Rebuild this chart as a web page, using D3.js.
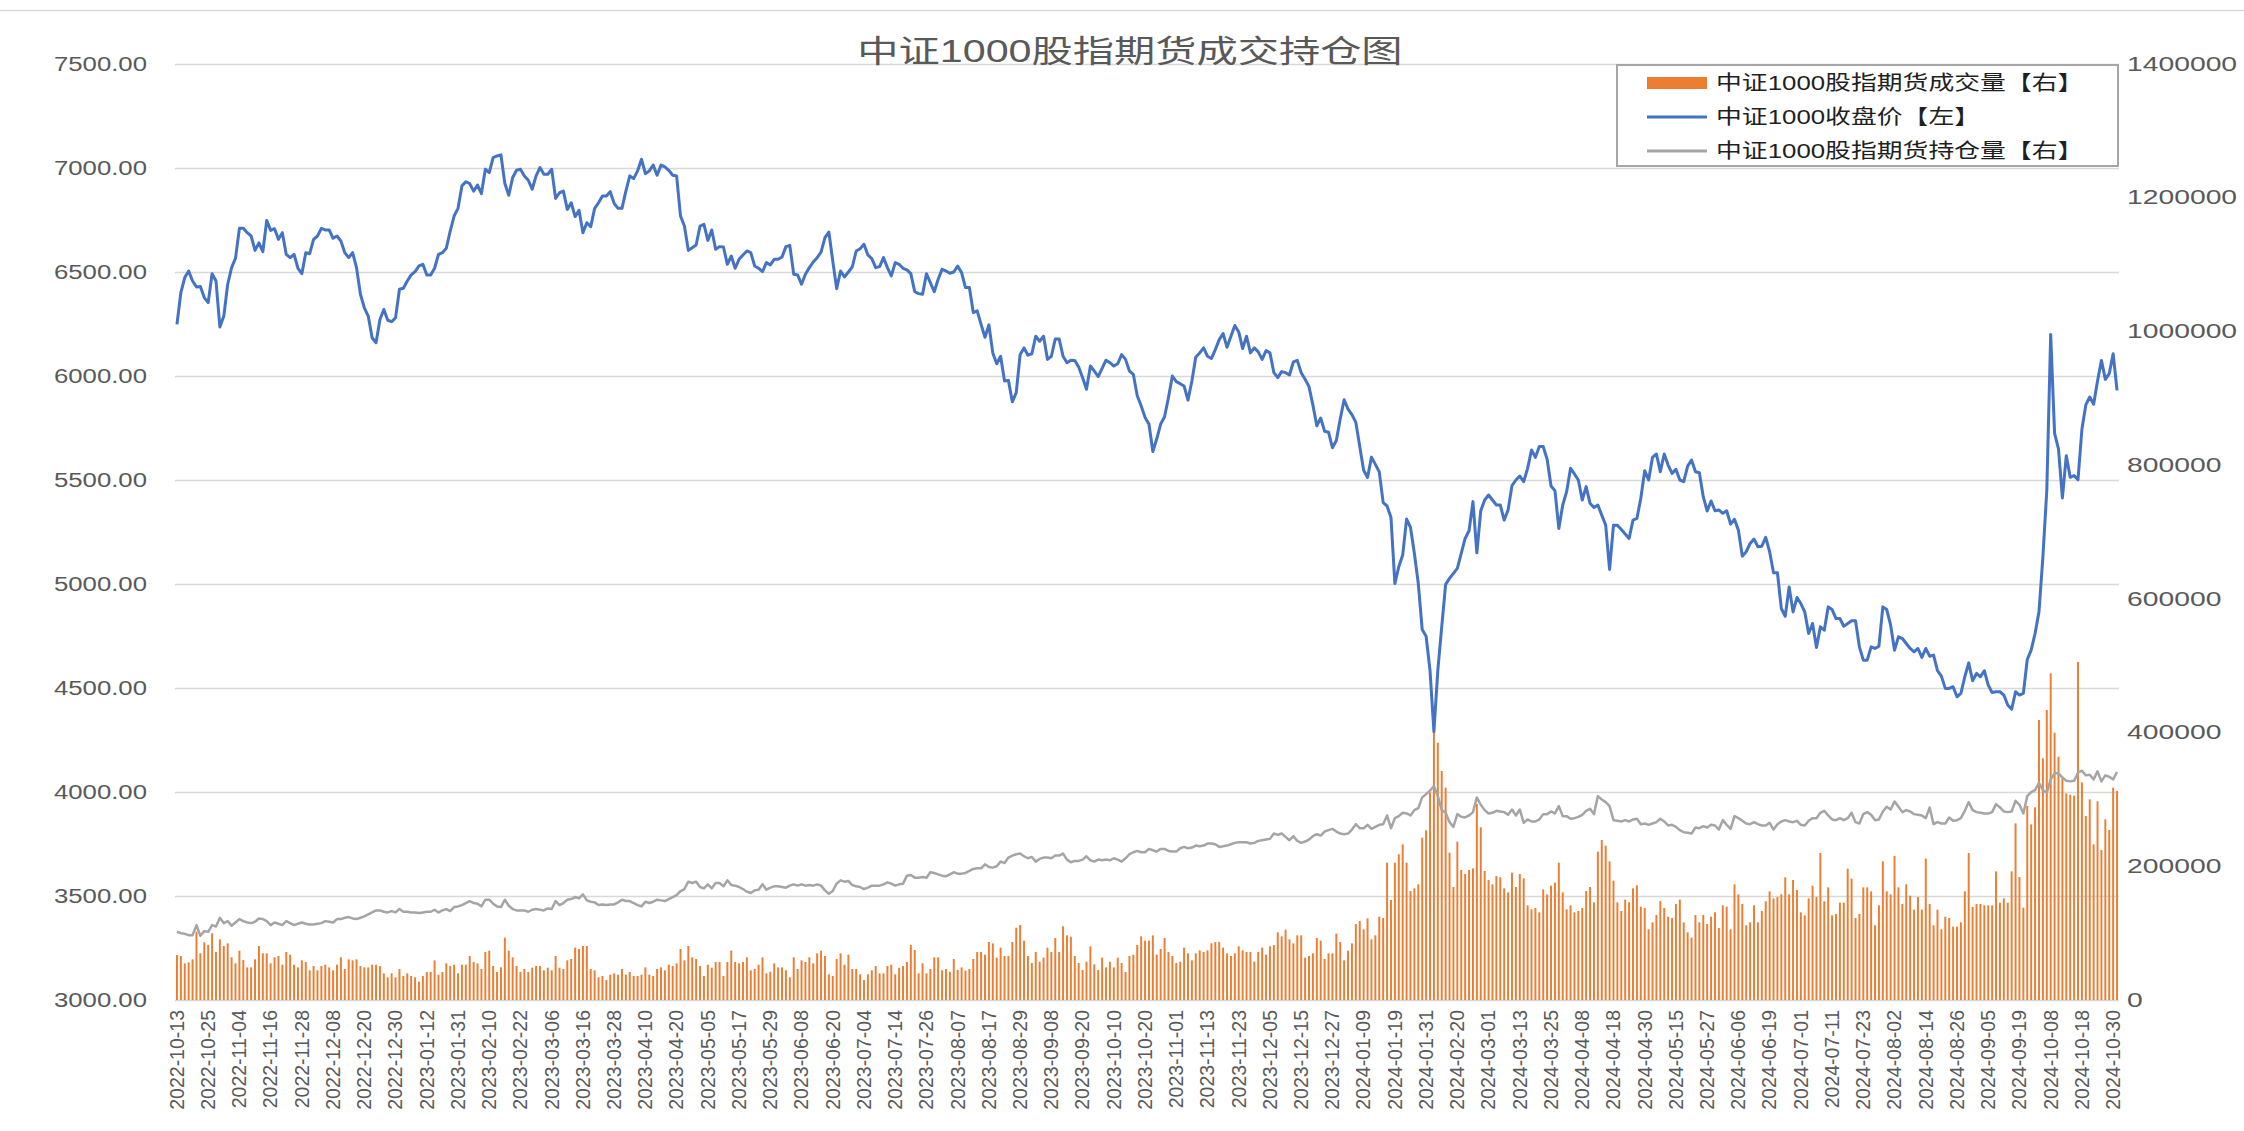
<!DOCTYPE html>
<html>
<head>
<meta charset="utf-8">
<script src="https://cdn.jsdelivr.net/npm/d3@7"></script>
<style>
  html, body { margin: 0; padding: 0; background: #fff; }
  svg { display: block; font-family: "Liberation Sans", "Noto Sans CJK SC", sans-serif; }
</style>
</head>
<body>
<svg id="chart" width="2244" height="1131"></svg>
<script>
// x axis labels, one every 8 trading days
var tickLabels = [
  "2022-10-13","2022-10-25","2022-11-04","2022-11-16","2022-11-28","2022-12-08","2022-12-20","2022-12-30",
  "2023-01-12","2023-01-31","2023-02-10","2023-02-22","2023-03-06","2023-03-16","2023-03-28","2023-04-10",
  "2023-04-20","2023-05-05","2023-05-17","2023-05-29","2023-06-08","2023-06-20","2023-07-04","2023-07-14",
  "2023-07-26","2023-08-07","2023-08-17","2023-08-29","2023-09-08","2023-09-20","2023-10-10","2023-10-20",
  "2023-11-01","2023-11-13","2023-11-23","2023-12-05","2023-12-15","2023-12-27","2024-01-09","2024-01-19",
  "2024-01-31","2024-02-20","2024-03-01","2024-03-13","2024-03-25","2024-04-08","2024-04-18","2024-04-30",
  "2024-05-15","2024-05-27","2024-06-06","2024-06-19","2024-07-01","2024-07-11","2024-07-23","2024-08-02",
  "2024-08-14","2024-08-26","2024-09-05","2024-09-19","2024-10-08","2024-10-18","2024-10-30"
];
var tickEvery = 8;

// 中证1000收盘价 (left axis)
var closePrice = [
  6248,6401,6473,6505,6457,6428,6430,6377,6353,6492,6457,6235,6288,6441,6521,6566,6710,6710,6689,6673,
  6604,6640,6598,6748,6700,6708,6657,6689,6585,6569,6585,6518,6492,6593,6588,6657,6673,6710,6702,6702,
  6662,6673,6649,6593,6569,6593,6521,6393,6328,6288,6184,6160,6272,6320,6268,6261,6280,6417,6422,6457,
  6486,6502,6529,6537,6486,6486,6518,6585,6593,6614,6697,6769,6806,6914,6934,6925,6889,6918,6877,6994,
  6978,7050,7058,7063,6925,6869,6954,6989,6994,6962,6941,6898,6962,7002,6970,6970,6994,6854,6881,6889,
  6801,6833,6766,6797,6689,6737,6718,6806,6833,6865,6865,6886,6830,6806,6806,6889,6962,6949,6986,7042,
  6973,6986,7014,6965,7014,7005,6989,6965,6962,6769,6721,6604,6617,6630,6721,6729,6652,6702,6609,6622,
  6620,6537,6577,6518,6561,6582,6601,6593,6529,6518,6502,6545,6534,6561,6561,6572,6622,6628,6489,6486,
  6441,6489,6521,6548,6569,6596,6665,6692,6553,6420,6505,6476,6500,6524,6601,6612,6633,6582,6564,6521,
  6526,6569,6521,6481,6545,6537,6518,6510,6492,6405,6396,6393,6492,6449,6405,6465,6513,6505,6494,6500,
  6529,6497,6425,6425,6305,6313,6248,
  6186,6246,6111,6059,6095,5976,5979,5876,5920,6103,6135,6100,6107,6191,6167,6191,6080,6095,6178,6178,
  6095,6064,6076,6075,6043,5992,5936,6048,6024,5997,6037,6076,6064,6048,6059,6103,6080,6024,6008,5905,
  5857,5801,5769,5637,5698,5769,5804,5897,6000,5973,5963,5952,5884,5976,6091,6111,6135,6095,6084,6127,
  6175,6204,6138,6191,6243,6212,6132,6191,6111,6135,6116,6080,6122,6111,6016,5992,6021,6016,6005,6068,
  6075,6016,5984,5949,5860,5761,5798,5734,5730,5655,5690,5793,5886,5841,5814,5777,5661,5547,5512,5610,
  5575,5539,5391,5375,5320,
  5002,5083,5139,5312,5272,5147,5002,4781,4749,4585,4290,4585,4794,4998,5027,5051,5075,5147,5219,5256,
  5396,5150,5352,5404,5428,5404,5380,5380,5307,5356,5473,5500,5519,5492,5556,5644,5609,5661,5661,5600,
  5471,5449,5267,5380,5444,5556,5529,5500,5404,5468,5388,5368,5380,5331,5283,5070,5283,5283,5262,5240,
  5219,5307,5315,5412,5545,5500,5609,5625,5540,5625,5572,5532,5551,5500,5492,5567,5596,5540,5535,5420,
  5351,5399,5352,5356,5340,5352,5288,5311,5259,5134,5155,5195,5216,5179,5182,5224,5155,5054,5054,4882,
  4845,4986,4866,4935,4906,
  4866,4762,4810,4695,4794,4778,4890,4877,4834,4834,4797,4810,4823,4823,4698,4634,4634,4698,4690,4701,
  4890,4877,4802,4682,4746,4738,4714,4690,4674,4690,4647,4690,4653,4658,4583,4557,4498,4498,4506,4458,
  4474,4554,4621,4535,4570,4554,4583,4514,4478,4482,4482,4466,4418,4398,4482,4466,4474,4637,4682,4762,
  4866,5129,5449,6200,5724,5649,5414,5617,5513,5521,5502,5744,5861,5899,5864,5976,6075,5984,6011,6107,
  5931
];

// 中证1000股指期货成交量 (right axis, bars)
var futVolume = [
  67300,65800,54800,56300,60800,102200,69800,86200,82300,99700,71800,90700,80800,84700,63800,54800,73800,59800,48800,48800,
  60800,80800,69800,69800,54800,63800,65800,52800,71800,67800,52800,48800,59300,56800,44400,50800,44400,50800,52800,48800,
  44400,52800,63800,46400,60800,59300,60800,50800,48800,48800,52800,52800,50800,39900,33900,39900,33900,46400,35900,39900,
  35900,33900,27400,35900,41900,41900,59300,37900,41900,54800,50800,52800,39900,52800,52800,65800,56800,54800,46400,71800,
  73800,50800,41900,48800,93200,73800,63800,50800,41900,46400,41900,48300,50800,50800,44400,48300,44400,65800,48300,46400,
  59300,61300,78300,76300,80800,80800,46400,44400,33900,35900,29900,37900,39900,37900,46400,37900,41900,35900,35900,37900,
  48800,37900,35900,46400,48800,44400,52800,50800,54800,76300,59300,80800,63800,61300,50800,35900,52800,48300,56800,56800,
  35900,56800,73800,56800,54800,56800,63800,44400,46400,52800,63800,39900,42400,54800,48800,48800,44400,33900,63800,46400,
  59300,56800,63800,54800,69800,73800,65800,38400,35900,61300,69800,52800,67800,46400,46400,38400,29900,38400,44400,50800,
  39900,39900,50800,52800,38400,48300,50800,56800,82300,74800,39900,54800,39900,46400,63800,63800,44400,46400,42400,61300,
  44900,48800,43900,46300,61300,71800,71800,67800,86700,84700,63300,78300,65800,65800,86700,108200,112200,88700,65800,55300,
  71800,57300,63300,78300,71800,92700,71800,110200,96700,94700,65800,55300,44900,57300,80300,53300,44900,63300,48800,57300,
  48800,63300,55300,41900,65800,67800,82200,95200,88700,88700,96700,67800,76300,92700,71800,65800,55300,57300,78300,69800,
  59300,69800,74300,71800,74300,84700,86700,86700,78300,69800,65800,69800,80300,74300,71800,71800,57300,71800,78300,67800,
  80300,82200,101200,95200,105200,90700,84700,96700,96700,63300,65800,69800,92700,88700,61300,69800,69800,99200,86700,59300,
  73800,84700,113600,118100,105700,122100,90700,96700,124600,122600,205400,149600,205400,217900,232800,205400,163000,167000,173000,242800,
  253800,310600,403800,384900,342500,317600,220400,169000,236800,194400,188400,194400,196900,293100,258200,192900,179500,173000,185500,183500,
  167000,161000,190400,169000,188400,182000,141600,135600,137600,131100,165500,158000,171000,175500,205400,161000,135600,141600,131100,133100,
  137600,163000,169000,146100,221900,239300,230800,207400,178500,146100,133100,150100,146100,167000,171500,139600,137600,105700,116100,127100,
  148000,137600,124600,122600,143600,150100,116100,101200,93200,127100,116100,127100,113600,124600,131100,107700,141600,139600,105700,
  173000,158000,143600,111700,116200,141600,116200,133100,147600,162500,152000,154000,158000,183500,158000,179500,164500,131100,126600,152000,
  171000,154000,219900,147600,168500,126600,128600,145600,145600,196400,181500,122600,128600,168500,168500,162500,111700,141600,207400,162500,
  158000,215400,168500,143600,173000,156000,135100,154000,135100,211400,143600,111700,135100,105700,124600,122600,109700,109700,116200,162500,
  219900,139100,143600,143600,141600,141600,141600,192400,145600,152000,145600,192400,264200,184000,138100,290200,262700,288200,418800,361500,
  433800,488600,399900,364000,331500,309100,307100,305600,505600,325600,275200,300100,232800,297100,224300,270200,254300,317600,312600
];

// 中证1000股指期货持仓量 (right axis, line)
var futOI = [
  102000,100000,99000,97000,97000,112000,96000,103000,102000,112000,110000,123000,115000,118000,111000,116000,121000,118000,116000,115000,
  117000,122000,121000,118000,112000,116000,114000,112000,118000,115000,112000,114000,116000,114000,113000,113000,114000,115000,118000,117000,
  116000,121000,121000,123000,124000,122000,121000,123000,125000,128000,131000,134000,134000,132000,131000,133000,131000,136000,132000,132000,
  131000,131000,130000,131000,132000,132000,135000,131000,134000,136000,133000,139000,140000,142000,145000,148000,145000,144000,140000,150000,
  150000,144000,140000,139000,150000,141000,136000,134000,134000,134000,132000,135000,136000,135000,134000,137000,136000,148000,142000,145000,
  150000,151000,154000,152000,158000,149000,147000,146000,142000,143000,142000,143000,143000,146000,150000,148000,148000,145000,142000,140000,
  147000,145000,147000,150000,149000,148000,151000,154000,157000,163000,166000,177000,175000,177000,169000,167000,173000,167000,175000,175000,
  170000,179000,172000,171000,169000,166000,162000,160000,164000,165000,173000,165000,168000,170000,170000,169000,168000,171000,173000,171000,
  173000,171000,172000,171000,173000,171000,164000,159000,163000,174000,179000,177000,178000,172000,170000,169000,166000,168000,171000,171000,
  171000,173000,176000,174000,171000,173000,174000,186000,187000,183000,183000,184000,183000,191000,190000,188000,186000,185000,188000,191000,
  189000,189000,190000,193000,196000,197000,197000,203000,199000,198000,200000,207000,205000,213000,216000,218000,219000,215000,212000,214000,
  207000,211000,213000,213000,212000,216000,216000,219000,210000,206000,208000,208000,210000,215000,209000,207000,210000,209000,210000,209000,
  212000,210000,207000,212000,218000,221000,223000,221000,221000,226000,224000,222000,226000,226000,223000,222000,222000,227000,229000,227000,
  228000,231000,230000,231000,234000,234000,233000,229000,230000,231000,233000,235000,236000,236000,236000,234000,235000,238000,239000,240000,
  241000,249000,247000,249000,244000,239000,245000,238000,235000,237000,240000,245000,248000,246000,252000,254000,256000,252000,249000,248000,
  249000,255000,263000,257000,257000,262000,256000,259000,262000,263000,276000,257000,272000,275000,280000,279000,276000,284000,287000,303000,
  308000,313000,320000,305000,284000,280000,266000,259000,278000,274000,273000,276000,281000,303000,292000,284000,279000,280000,283000,282000,
  281000,277000,285000,276000,285000,265000,270000,267000,267000,270000,278000,278000,282000,279000,290000,275000,275000,271000,272000,274000,
  277000,283000,286000,278000,305000,300000,296000,290000,269000,268000,267000,269000,267000,270000,271000,263000,264000,262000,264000,266000,
  271000,267000,261000,262000,259000,254000,251000,250000,249000,258000,257000,260000,258000,262000,261000,255000,269000,262000,256000,
  275000,272000,268000,264000,263000,266000,263000,261000,261000,265000,255000,263000,267000,269000,267000,266000,268000,262000,261000,268000,
  272000,272000,280000,283000,276000,270000,269000,272000,269000,272000,280000,266000,264000,278000,281000,277000,269000,270000,282000,289000,
  285000,297000,289000,281000,284000,282000,278000,277000,276000,272000,288000,263000,266000,264000,264000,273000,268000,269000,272000,283000,
  296000,284000,281000,280000,279000,279000,281000,293000,288000,282000,281000,282000,298000,292000,279000,305000,311000,314000,325000,314000,
  310000,330000,339000,339000,333000,328000,327000,328000,340000,343000,336000,337000,330000,342000,327000,336000,334000,330000,341000
];

var seriesNames = ["中证1000股指期货成交量【右】", "中证1000收盘价【左】", "中证1000股指期货持仓量【右】"];

// the reference chart is stretched sideways, so text gets widened to match
function stretchText(sel, k) {
  sel.each(function() {
    var w = this.getComputedTextLength();
    d3.select(this).attr("textLength", w * k).attr("lengthAdjust", "spacingAndGlyphs");
  });
}

function buildChart(opts) {

  if (opts.price.length != opts.volume.length || opts.price.length != opts.oi.length)
    console.log("length mismatch: " + opts.price.length + " " + opts.volume.length + " " + opts.oi.length);

  var svg = d3.select('#' + opts.svgID);
  var left = 175, right = 2119, top = 64, bottom = 1000;
  var N = opts.price.length;

  svg.append("line")
      .attr("x1", 0).attr("x2", opts.w).attr("y1", 10.5).attr("y2", 10.5)
      .attr("stroke", "#d9d9d9").attr("stroke-width", 1.5);

  var x = d3.scaleBand()
      .domain(d3.range(N))
      .range([left, right])
      .paddingInner(0.5)
      .paddingOuter(0.25);
  var cx = function(i) { return x(i) + x.bandwidth() / 2; };

  var yL = d3.scaleLinear().domain([3000, 7500]).range([bottom, top]);
  var yR = d3.scaleLinear().domain([0, 1400000]).range([bottom, top]);

  // left axis + gridlines
  var gL = svg.append("g")
      .attr("transform", "translate(" + left + ",0)")
      .call(d3.axisLeft(yL)
        .tickValues(d3.range(3000, 7501, 500))
        .tickSize(-(right - left))
        .tickFormat(d3.format(".2f")));
  gL.select(".domain").remove();
  gL.selectAll("line").attr("stroke", "#d9d9d9").attr("stroke-width", 1.5);
  gL.selectAll("text")
      .attr("x", -28)
      .attr("fill", "#595959")
      .style("font-size", "19.5px")
      .style("font-family", "Liberation Sans");
  stretchText(gL.selectAll("text"), 1.32);

  // right axis
  var gR = svg.append("g")
      .attr("transform", "translate(" + right + ",0)")
      .call(d3.axisRight(yR)
        .tickValues(d3.range(0, 1400001, 200000))
        .tickSize(0)
        .tickFormat(d3.format("d")));
  gR.select(".domain").remove();
  gR.selectAll("text")
      .attr("x", 8)
      .attr("fill", "#595959")
      .style("font-size", "19.5px")
      .style("font-family", "Liberation Sans");
  stretchText(gR.selectAll("text"), 1.45);

  // bottom axis with rotated date labels
  var gX = svg.append("g")
      .attr("transform", "translate(0," + bottom + ")")
      .call(d3.axisBottom(x)
        .tickValues(d3.range(0, N, opts.every))
        .tickSize(0)
        .tickFormat(function(i) { return opts.labels[i / opts.every]; }));
  gX.select(".domain").remove();
  gX.selectAll("text")
      .attr("transform", "rotate(-90)")
      .attr("x", -10)
      .attr("y", 0)
      .attr("dy", "0.35em")
      .attr("text-anchor", "end")
      .attr("fill", "#595959")
      .style("font-size", "19.5px")
      .style("font-family", "Liberation Sans");

  // volume bars
  svg.append("g").selectAll("rect")
      .data(opts.volume)
    .enter().append("rect")
      .attr("x", function(d, i) { return x(i); })
      .attr("width", x.bandwidth())
      .attr("y", function(d) { return yR(d); })
      .attr("height", function(d) { return bottom - yR(d); })
      .attr("fill", "#ED7D31");

  // open interest line
  svg.append("path")
      .datum(opts.oi)
      .attr("fill", "none")
      .attr("stroke", "#A5A5A5")
      .attr("stroke-width", 2.5)
      .attr("stroke-linejoin", "round")
      .attr("d", d3.line().x(function(d, i) { return cx(i); }).y(function(d) { return yR(d); }));

  // close price line
  svg.append("path")
      .datum(opts.price)
      .attr("fill", "none")
      .attr("stroke", "#4472C4")
      .attr("stroke-width", 3)
      .attr("stroke-linejoin", "round")
      .attr("d", d3.line().x(function(d, i) { return cx(i); }).y(function(d) { return yL(d); }));

  // title
  var title = svg.append("text")
      .attr("x", 1130)
      .attr("y", 51)
      .attr("dy", "0.35em")
      .attr("text-anchor", "middle")
      .attr("fill", "#595959")
      .style("font-size", "31px")
      .text(opts.title);
  stretchText(title, 1.33);

  // legend
  var lg = svg.append("g").attr("transform", "translate(1617,65)");
  lg.append("rect")
      .attr("width", 501).attr("height", 101)
      .attr("fill", "#fff")
      .attr("stroke", "#a6a6a6").attr("stroke-width", 2);
  var rows = [18, 52, 86];
  lg.append("rect")
      .attr("x", 30).attr("y", rows[0] - 6).attr("width", 60).attr("height", 12)
      .attr("fill", "#ED7D31");
  lg.append("line")
      .attr("x1", 30).attr("x2", 90).attr("y1", rows[1]).attr("y2", rows[1])
      .attr("stroke", "#4472C4").attr("stroke-width", 3);
  lg.append("line")
      .attr("x1", 30).attr("x2", 90).attr("y1", rows[2]).attr("y2", rows[2])
      .attr("stroke", "#A5A5A5").attr("stroke-width", 3);
  var lt = lg.selectAll("text.leg")
      .data(opts.names)
    .enter().append("text")
      .attr("class", "leg")
      .attr("x", 99)
      .attr("y", function(d, i) { return rows[i]; })
      .attr("dy", "0.35em")
      .attr("fill", "#1f1f1f")
      .style("font-size", "20.5px")
      .text(function(d) { return d; });
  stretchText(lt, 1.26);
}

buildChart({
  svgID: "chart",
  w: 2244,
  h: 1131,
  title: "中证1000股指期货成交持仓图",
  labels: tickLabels,
  every: tickEvery,
  price: closePrice,
  volume: futVolume,
  oi: futOI,
  names: seriesNames
});
</script>
</body>
</html>
